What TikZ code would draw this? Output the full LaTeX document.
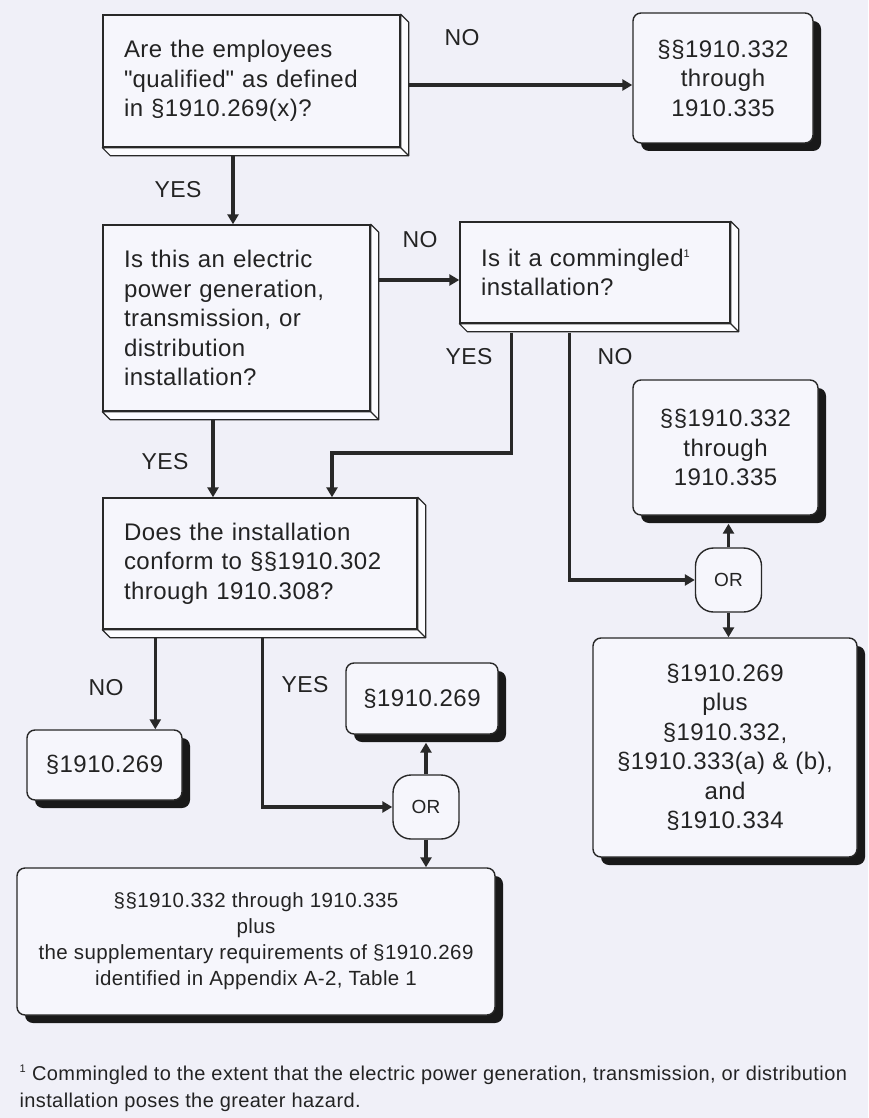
\documentclass[tikz,border=0pt]{standalone}
\usepackage{fontspec}
\setmainfont{Liberation Sans}[LetterSpace=2]
\usetikzlibrary{arrows.meta,positioning,calc,shadows}
\definecolor{ohBg}  {RGB}{240,240,248}
\definecolor{ohFace}{RGB}{246,246,252}
\definecolor{ohBev} {RGB}{252,252,255}
\definecolor{ohLine}{RGB}{ 40, 40, 40}
\definecolor{ohText}{RGB}{ 35, 35, 35}

% raised edge on the right and bottom of a question box
\newcommand{\qbevel}[1]{%
  \filldraw[fill=ohBev,draw=ohLine,line width=1.2pt,line join=round]
    (#1.north east) -- ++(8,8) -- ($(#1.south east)+(8,8)$)
    -- ($(#1.south west)+(8,8)$) -- (#1.south west) -- (#1.south east) -- cycle;
  \draw[ohLine,line width=1.2pt] (#1.south east) -- ++(8,8);
}

\begin{document}
\begin{tikzpicture}[x=1pt,y=-1pt,
  >={Triangle[length=10pt,width=11pt]},
  qbox/.style={draw=ohLine,fill=ohFace,line width=1.4pt,align=left,
               inner xsep=21pt,text=ohText,
               font=\fontsize{24}{29.5}\selectfont},
  rbox/.style={draw=ohLine,fill=ohFace,line width=1.4pt,rounded corners=8pt,
               align=center,text=ohText,font=\fontsize{24}{29.5}\selectfont,
               drop shadow={shadow xshift=8pt,shadow yshift=-8pt,
                            fill=black!90,opacity=1}},
  orbox/.style={draw=ohLine,fill=ohFace,line width=1.4pt,rounded corners=18pt,
               minimum width=66pt,minimum height=64pt,text=ohText,
               font=\fontsize{19}{21}\selectfont},
  flow/.style={->,line width=3.6pt,draw=ohLine},
  lbl/.style={text=ohText,font=\fontsize{23}{26}\selectfont},
  foot/.style={text=ohText,anchor=base west,font=\fontsize{20}{26}\selectfont},
]
\useasboundingbox[fill=ohBg] (0,0) rectangle (868,1118);

% questions
\node[qbox,minimum width=297pt,minimum height=132pt,text width=255pt] (q1) at (251.5,81)
   {Are the employees\\\textquotedbl qualified\textquotedbl{} as defined\\in §1910.269(x)?};
\node[qbox,minimum width=267pt,minimum height=186pt,text width=225pt] (q2) at (236.5,318)
   {Is this an electric\\power generation,\\transmission, or\\distribution\\installation?};
\node[qbox,minimum width=270pt,minimum height=101pt,text width=228pt] (q3) at (595,272.5)
   {Is it a commingled\textsuperscript{\fontsize{11}{11}\selectfont 1}\\installation?};
\node[qbox,minimum width=314pt,minimum height=131pt,text width=272pt] (q4) at (260,563.5)
   {Does the installation\\conform to §§1910.302\\through 1910.308?};
\qbevel{q1}
\qbevel{q2}
\qbevel{q3}
\qbevel{q4}

% results
\node[rbox,minimum width=180pt,minimum height=130pt] (r1) at (723,78)
   {§§1910.332\\through\\1910.335};
\node[rbox,minimum width=185pt,minimum height=135pt] (r5) at (725.5,447.5)
   {§§1910.332\\through\\1910.335};
\node[rbox,minimum width=152pt,minimum height=71pt] (r2) at (422,698.5) {§1910.269};
\node[rbox,minimum width=155pt,minimum height=70pt] (r3) at (104.5,765) {§1910.269};
\node[rbox,minimum width=264pt,minimum height=219pt] (r6) at (725,747.5)
   {§1910.269\\plus\\§1910.332,\\§1910.333(a) \& (b),\\and\\§1910.334};
\node[rbox,minimum width=478pt,minimum height=147pt,font=\fontsize{20.5}{26}\selectfont] (r4) at (256,941.5)
   {§§1910.332 through 1910.335\\plus\\the supplementary requirements of §1910.269\\identified in Appendix A-2, Table 1};

% or junctions
\node[orbox] (or1) at (426,807) {OR};
\node[orbox] (or2) at (728.5,580) {OR};

% branch points
\coordinate (noQ1)  at ($(q1.east)+(8,4)$);
\coordinate (yesQ1) at ($(q1.south)+(-18.5,8)$);
\coordinate (noQ2)  at ($(q2.east)+(8,-38)$);
\coordinate (yesQ2) at ($(q2.south)+(-23.5,8)$);
\coordinate (yesQ3) at ($(q3.south west)+(52,9)$);
\coordinate (noQ3)  at ($(q3.south west)+(110,9)$);
\coordinate (bendQ3) at (332,453);
\coordinate (noQ4)  at ($(q4.south west)+(53,8)$);
\coordinate (yesQ4) at ($(q4.south west)+(160,8)$);
\coordinate (r5sh)  at ($(r5.south)+(0,8)$);
\coordinate (r2sh)  at ($(r2.south)+(0,8)$);

\draw[flow] (noQ1) -- (noQ1 -| r1.west);
\draw[flow] (yesQ1) -- (yesQ1 |- q2.north);
\draw[flow] (noQ2) -- (noQ2 -| q3.west);
\draw[flow] (yesQ2) -- (yesQ2 |- q4.north);
\draw[flow] (yesQ3) |- (bendQ3) -- (bendQ3 |- q4.north);
\draw[flow] (noQ3) |- (or2.west);
\draw[flow] (or2.north) -- (or2.north |- r5sh);
\draw[flow] (or2.south) -- (or2.south |- r6.north);
\draw[flow] (noQ4) -- (noQ4 |- r3.north);
\draw[flow] (yesQ4) |- (or1.west);
\draw[flow] (or1.north) -- (or1.north |- r2sh);
\draw[flow] (or1.south) -- (or1.south |- r4.north);

% answers
\node[lbl] (lNo1)  at (462,38)  {NO};
\node[lbl] (lYes1) at (178,190) {YES};
\node[lbl] (lNo2)  at (420,240) {NO};
\node[lbl] (lYes2) at (165,462) {YES};
\node[lbl] (lYes3) at (469,357) {YES};
\node[lbl] (lNo3)  at (615,357) {NO};
\node[lbl] (lNo4)  at (106,688) {NO};
\node[lbl] (lYes4) at (305,685) {YES};

% footnote
\node[foot] (fn1) at (16,1080) {\textsuperscript{\fontsize{11}{11}\selectfont 1} Commingled to the extent that the electric power generation, transmission, or distribution};
\node[foot] (fn2) at (16,1107) {installation poses the greater hazard.};
\end{tikzpicture}
\end{document}
